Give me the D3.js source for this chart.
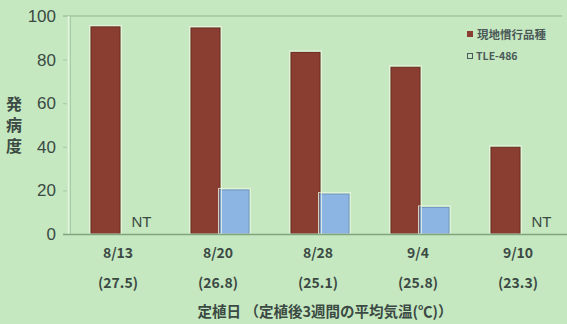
<!DOCTYPE html>
<html>
<head>
<meta charset="utf-8">
<script src="https://cdn.jsdelivr.net/npm/d3@7/dist/d3.min.js"></script>
<style>
  html, body { margin: 0; padding: 0; background: #c6e8c1; }
  svg { display: block; }
  text { font-family: "Noto Sans CJK JP", "Noto Sans", sans-serif; }
</style>
</head>
<body>
<svg id="chart" width="567" height="324"></svg>
<script>
// Planting dates and the mean air temperature over the following 3 weeks
const dates = ["8/13", "8/20", "8/28", "9/4", "9/10"];
const temps = ["(27.5)", "(26.8)", "(25.1)", "(25.8)", "(23.3)"];
const seriesNames = ["現地慣行品種", "TLE-486"];
// Disease index per planting date (null = not tested)
const localVariety = [95, 94.5, 83.3, 76.5, 39.8];
const tle486 = [null, 20.2, 18.3, 12.2, null];
const yTicks = [0, 20, 40, 60, 80, 100];

const colors = ["#8a3d31", "#8db5e4"];
const strokes = ["#6e2c22", "#6f95c4"];

const svg = d3.select("#chart");
const W = 567, H = 324;
const plot = { left: 70, right: 570, top: 16, bottom: 234 };

const x = d3.scaleBand().domain(dates).range([plot.left, plot.right]).paddingInner(0);
const xs = d3.scaleBand().domain(seriesNames).range([21, 79]);
const y = d3.scaleLinear().domain([0, 100]).range([plot.bottom, plot.top]);

const rows = dates.map((d, i) => ({ date: d, values: [localVariety[i], tle486[i]] }));

// frame lines
svg.append("line").attr("x1", 63).attr("x2", 562).attr("y1", y(100)).attr("y2", y(100))
  .attr("stroke", "#8fb58c").attr("stroke-width", 1);
svg.append("line").attr("x1", 68.5).attr("x2", 68.5).attr("y1", y(100)).attr("y2", y(0))
  .attr("stroke", "#e2f2dc").attr("stroke-width", 1.5);
svg.append("line").attr("x1", 70.5).attr("x2", 70.5).attr("y1", y(100)).attr("y2", y(0))
  .attr("stroke", "#a9cca6").attr("stroke-width", 1);

// y axis ticks and labels
const yAxis = d3.axisLeft(y).tickValues(yTicks).tickSize(4).tickPadding(7);
const gy = svg.append("g").attr("transform", "translate(67,0)").call(yAxis);
gy.select(".domain").remove();
gy.selectAll(".tick line").attr("stroke", "#a8c8a4");
gy.selectAll(".tick text")
  .attr("fill", "#3b4a43")
  .attr("font-size", 17)
  .style("font-family", "'Liberation Sans', Arial, sans-serif");

// bars
const groups = svg.append("g").selectAll("g").data(rows).join("g")
  .attr("transform", d => `translate(${x(d.date)},0)`);

groups.selectAll("rect.bar")
  .data(d => d.values.map((v, k) => ({ v, k })).filter(e => e.v !== null))
  .join("rect")
  .attr("class", "bar")
  .attr("x", e => xs(seriesNames[e.k]))
  .attr("width", xs.bandwidth())
  .attr("y", e => y(e.v))
  .attr("height", e => y(0) - y(e.v))
  .attr("fill", e => colors[e.k])
  .attr("stroke", e => strokes[e.k])
  .attr("stroke-width", 1);

// light halo along bar edges
groups.selectAll("rect.halo")
  .data(d => d.values.map((v, k) => ({ v, k })).filter(e => e.v !== null))
  .join("rect")
  .attr("class", "halo")
  .attr("x", e => xs(seriesNames[e.k]) - 1.5)
  .attr("width", xs.bandwidth() + 3)
  .attr("y", e => y(e.v) - 1.5)
  .attr("height", e => y(0) - y(e.v) + 1.5)
  .attr("fill", "none")
  .attr("stroke", "#eaf5e0")
  .attr("stroke-width", 1)
  .attr("opacity", 0.8);

// NT marks for untested entries
groups.selectAll("text.nt")
  .data(d => d.values.map((v, k) => ({ v, k })).filter(e => e.v === null))
  .join("text")
  .attr("class", "nt")
  .attr("x", e => xs(seriesNames[e.k]) + xs.bandwidth() / 2 + 7)
  .attr("y", y(0) - 7)
  .attr("text-anchor", "middle")
  .attr("fill", "#3b4a43")
  .attr("font-size", 15)
  .style("font-family", "'Liberation Sans', Arial, sans-serif")
  .text("NT");

// baseline
svg.append("line").attr("x1", 63).attr("x2", W).attr("y1", y(0) + 0.5).attr("y2", y(0) + 0.5)
  .attr("stroke", "#7fa57c").attr("stroke-width", 1.5);

// x labels: dates and temperatures
const gx = svg.append("g");
gx.selectAll("text.date").data(dates).join("text")
  .attr("class", "date")
  .attr("x", d => x(d) + x.bandwidth() / 2 - 2)
  .attr("y", 258)
  .attr("text-anchor", "middle")
  .attr("fill", "#3b4a43")
  .attr("font-size", 14)
  .attr("font-weight", "bold")
  .text(d => d);
gx.selectAll("text.temp").data(dates).join("text")
  .attr("class", "temp")
  .attr("x", d => x(d) + x.bandwidth() / 2 - 2)
  .attr("y", 288)
  .attr("text-anchor", "middle")
  .attr("fill", "#3b4a43")
  .attr("font-size", 14)
  .attr("font-weight", "bold")
  .text((d, i) => temps[i]);

// x axis title
svg.append("text")
  .attr("x", 325).attr("y", 317)
  .attr("text-anchor", "middle")
  .attr("fill", "#3b4a43")
  .attr("font-size", 14.5)
  .attr("font-weight", "bold")
  .text("定植日 （定植後3週間の平均気温(℃)）");

// y axis title, set vertically
svg.append("text")
  .attr("x", 14).attr("y", 96)
  .attr("fill", "#3b4a43")
  .attr("font-size", 16)
  .attr("font-weight", "bold")
  .style("writing-mode", "vertical-rl")
  .style("letter-spacing", "5px")
  .text("発病度");

// legend
const legend = svg.append("g");
legend.append("rect").attr("x", 467).attr("y", 31).attr("width", 6).attr("height", 6)
  .attr("fill", colors[0]);
legend.append("text").attr("x", 477).attr("y", 38.5)
  .attr("fill", "#4b5a58").attr("font-size", 11.5).attr("font-weight", "bold")
  .text(seriesNames[0]);
legend.append("rect").attr("x", 467.5).attr("y", 53.5).attr("width", 5).attr("height", 5)
  .attr("fill", "none").attr("stroke", "#4b5a58").attr("stroke-width", 1);
legend.append("text").attr("x", 476).attr("y", 59.5)
  .attr("fill", "#4b5a58").attr("font-size", 10.5).attr("font-weight", "bold")
  .text(seriesNames[1]);
</script>
</body>
</html>
